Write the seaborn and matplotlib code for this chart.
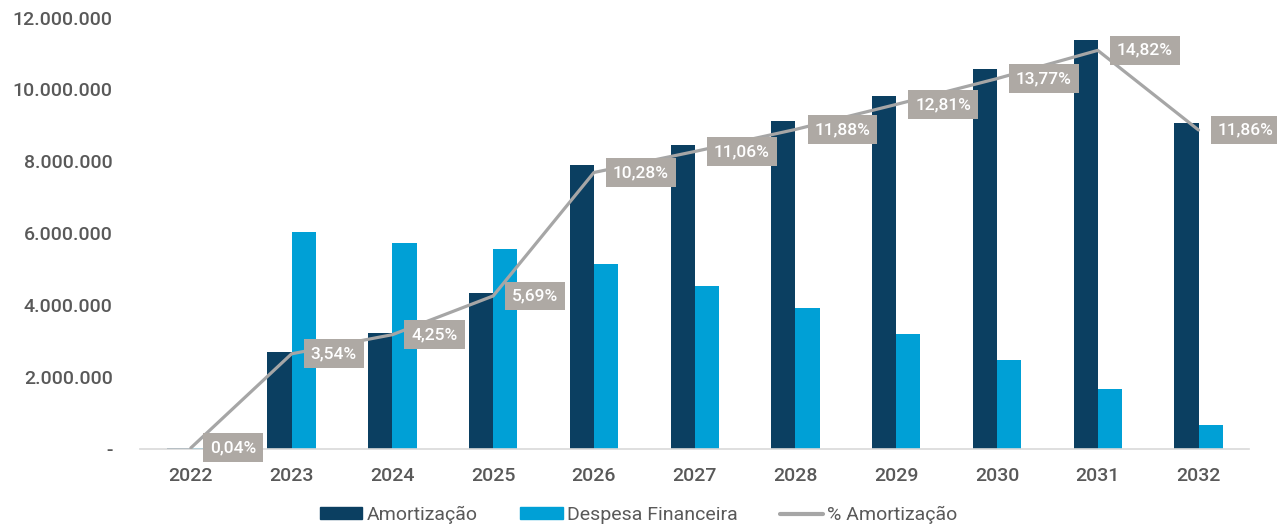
import numpy as np
import pandas as pd
import matplotlib
matplotlib.use("Agg")
import matplotlib.pyplot as plt
import seaborn as sns
from matplotlib.ticker import FuncFormatter, MultipleLocator
from matplotlib.patches import Patch
from matplotlib.lines import Line2D

# Data
anos = ['2022', '2023', '2024', '2025', '2026', '2027', '2028', '2029', '2030', '2031', '2032']
amortizacao = [30000, 2700000, 3220000, 4350000, 7890000, 8450000, 9130000, 9820000, 10580000, 11370000, 9070000]
despesa_financeira = [40000, 6040000, 5720000, 5550000, 5150000, 4540000, 3920000, 3210000, 2470000, 1670000, 670000]
pct_amortizacao = [0.04, 3.54, 4.25, 5.69, 10.28, 11.06, 11.88, 12.81, 13.77, 14.82, 11.86]

DARK = '#0B3F61'
LIGHT = '#00A0D6'
LINE = '#A6A6A6'
BOX = '#AEA9A4'
TXT = '#595959'

sns.set_style('white')
plt.rcParams['font.family'] = ['Roboto', 'DejaVu Sans']

df = pd.DataFrame({
    'ano': anos * 2,
    'valor': amortizacao + despesa_financeira,
    'serie': ['Amortização'] * len(anos) + ['Despesa Financeira'] * len(anos),
})

fig, ax = plt.subplots(figsize=(12.77, 5.32), dpi=100)
fig.subplots_adjust(left=0.110, right=0.978, bottom=0.156, top=0.967)

sns.barplot(data=df, x='ano', y='valor', hue='serie', palette=[DARK, LIGHT],
            width=0.48, gap=0, saturation=1, legend=False, linewidth=0, ax=ax)

ax.set_ylim(0, 12000000)
ax.set_xlim(-0.5, len(anos) - 0.5)
ax.yaxis.set_major_locator(MultipleLocator(2000000))
ax.yaxis.set_major_formatter(FuncFormatter(
    lambda v, p: '-' if v == 0 else f'{v:,.0f}'.replace(',', '.')))
ax.set_xlabel('')
ax.set_ylabel('')
ax.tick_params(axis='y', length=0, pad=20, labelsize=14, labelcolor=TXT)
ax.tick_params(axis='x', length=0, pad=13, labelsize=14, labelcolor=TXT)
for lbl in ax.get_xticklabels() + ax.get_yticklabels():
    lbl.set_fontweight('medium')
for s in ['top', 'right', 'left']:
    ax.spines[s].set_visible(False)
ax.spines['bottom'].set_color('#D9D9D9')
ax.spines['bottom'].set_linewidth(1.2)

# Secondary (hidden) axis for the percentage line
ax2 = ax.twinx()
x_pos = np.arange(len(anos))
sns.lineplot(x=x_pos, y=pct_amortizacao, color=LINE, linewidth=2.3, ax=ax2)
ax2.set_ylim(0, 16.04)
ax2.set_xlim(-0.5, len(anos) - 0.5)
ax2.axis('off')

for xi, p in zip(x_pos, pct_amortizacao):
    ax2.annotate(f'{p:.2f}%'.replace('.', ','), xy=(xi, p),
                 xytext=(19, 0), textcoords='offset pixels',
                 ha='left', va='center', fontsize=12.5, fontweight='medium', color='white',
                 bbox=dict(boxstyle='square,pad=0.4', fc=BOX, ec='none'))

handles = [Patch(color=DARK), Patch(color=LIGHT), Line2D([], [], color=LINE, linewidth=3)]
labels = ['Amortização', 'Despesa Financeira', '% Amortização']
fig.legend(handles, labels, loc='center', bbox_to_anchor=(0.5, 0.032), ncol=3,
           frameon=False, fontsize=14, labelcolor=TXT, handlelength=2.2,
           handleheight=0.55, handletextpad=0.2, columnspacing=2.2)

fig.savefig('out.png', dpi=100)
